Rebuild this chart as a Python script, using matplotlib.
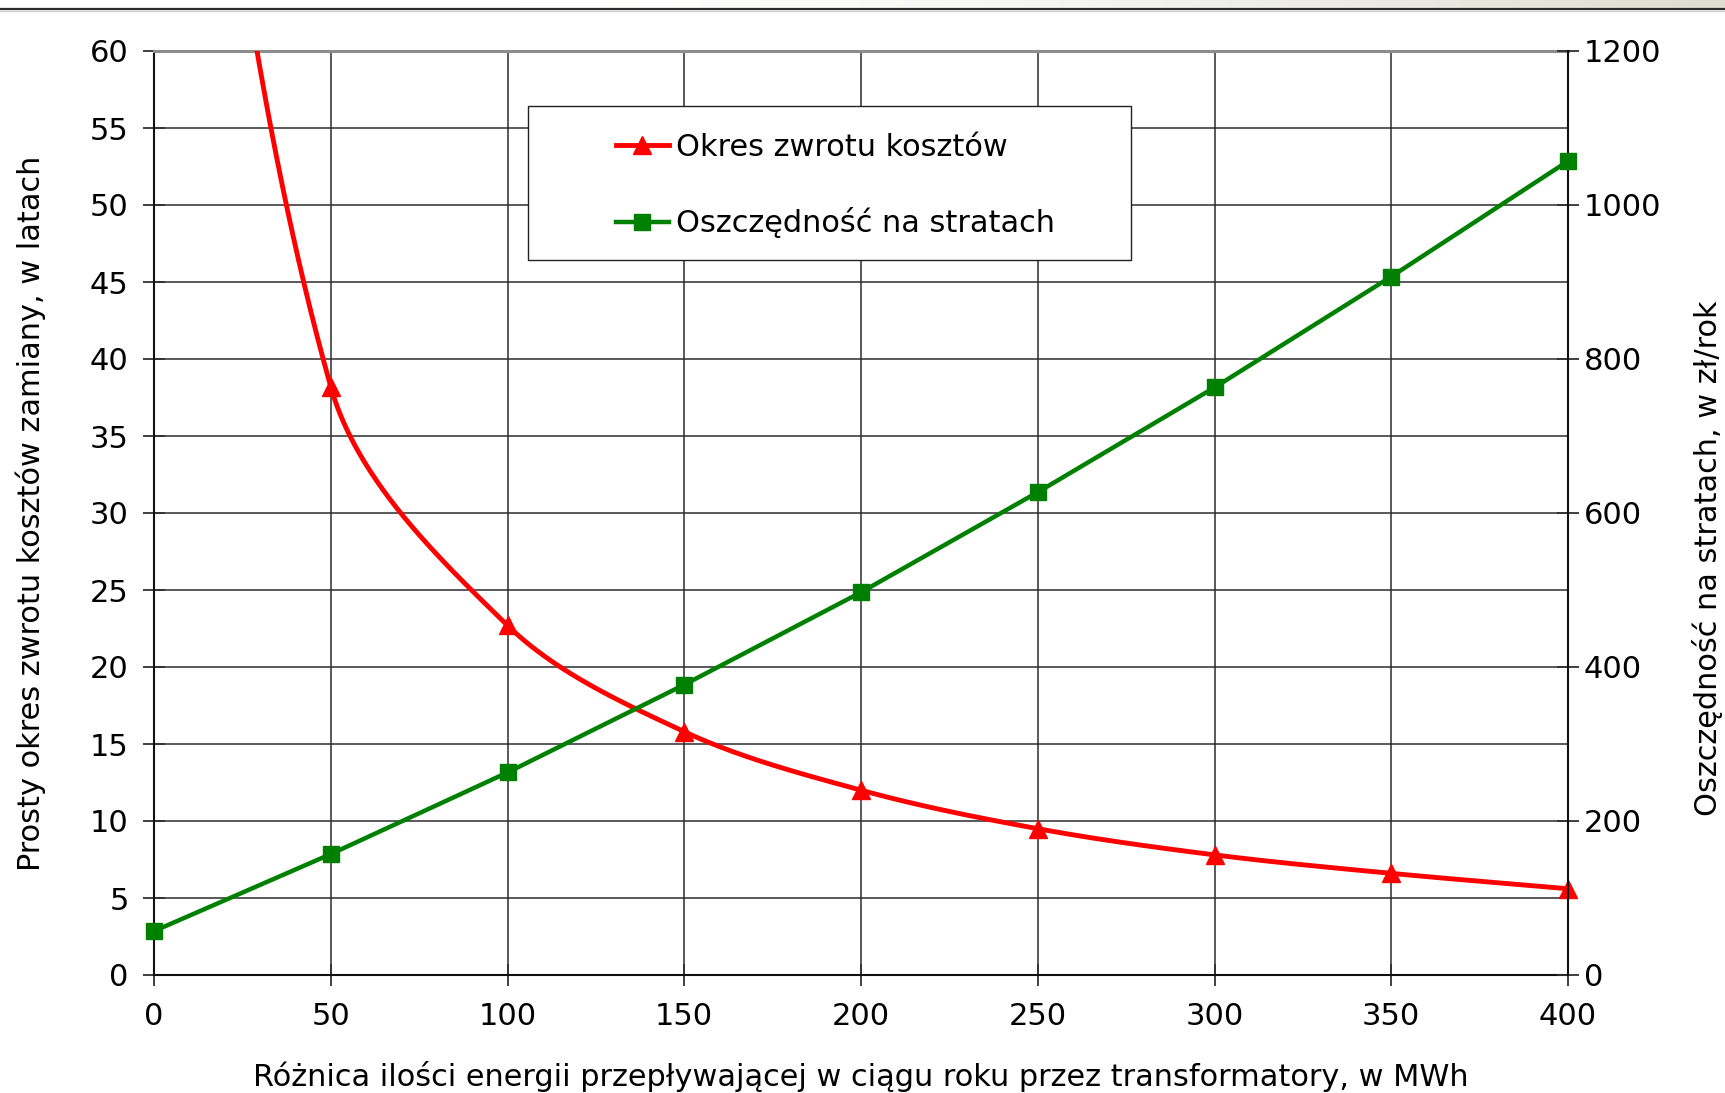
import numpy as np
import matplotlib
matplotlib.use("Agg")
import matplotlib.pyplot as plt
from matplotlib.lines import Line2D
from matplotlib.patches import Rectangle

plt.rcParams['font.family'] = ['DejaVu Sans']

# --- data -------------------------------------------------------------
energy_mwh = [0, 50, 100, 150, 200, 250, 300, 350, 400]
payback_years = [104.4, 38.2, 22.7, 15.8, 12.0, 9.5, 7.8, 6.6, 5.6]
savings_pln = [57, 157, 263, 377, 497, 627, 763, 907, 1057]

series_names = ["Okres zwrotu kosztów", "Oszczędność na stratach"]
x_ticks = [0, 50, 100, 150, 200, 250, 300, 350, 400]
left_ticks = list(range(0, 61, 5))
right_ticks = list(range(0, 1201, 200))

xlabel = "Różnica ilości energii przepływającej w ciągu roku przez transformatory, w MWh"
ylabel_left = "Prosty okres zwrotu kosztów zamiany, w latach"
ylabel_right = "Oszczędność na stratach, w zł/rok"

RED = "#ff0000"
GREEN = "#008000"
GRID = "#2c2c2c"
FS_TICK = 22
FS_LABEL = 21.9


def smooth_curve(xs, ys, sx, sy, steps=80):
    """Cubic Bezier through the points; tangents follow the neighbouring
    chords and are split in proportion to the on-screen segment lengths."""
    pts = np.column_stack([np.asarray(xs, float) * sx, np.asarray(ys, float) * sy])
    n = len(pts)
    out_ctrl = np.zeros_like(pts)
    in_ctrl = np.zeros_like(pts)
    for i in range(n):
        prev_p = pts[i - 1] if i > 0 else pts[i]
        next_p = pts[i + 1] if i < n - 1 else pts[i]
        tangent = next_p - prev_p
        d_prev = np.hypot(*(pts[i] - prev_p))
        d_next = np.hypot(*(next_p - pts[i]))
        total = d_prev + d_next
        out_ctrl[i] = pts[i] + tangent * (d_next / total) / 3.0
        in_ctrl[i] = pts[i] - tangent * (d_prev / total) / 3.0
    t = np.linspace(0.0, 1.0, steps)[:, None]
    parts = []
    for i in range(n - 1):
        p1, c1, c2, p2 = pts[i], out_ctrl[i], in_ctrl[i + 1], pts[i + 1]
        seg = ((1 - t) ** 3) * p1 + 3 * ((1 - t) ** 2) * t * c1 \
            + 3 * (1 - t) * t ** 2 * c2 + t ** 3 * p2
        parts.append(seg if i == 0 else seg[1:])
    arr = np.vstack(parts)
    return arr[:, 0] / sx, arr[:, 1] / sy


W, H = 1725, 1093
fig = plt.figure(figsize=(W / 100, H / 100), dpi=100)
fig.patch.set_facecolor("white")

# header strip with rule
band = fig.add_axes([0, 1 - 8 / H, 1, 8 / H])
grad = np.clip((np.linspace(0, 1, 256) - 0.3) / 0.7, 0, 1) ** 1.5
img = np.ones((1, 256, 3))
img[0, :, 0] = 1 - 0.13 * grad
img[0, :, 1] = 1 - 0.13 * grad
img[0, :, 2] = 1 - 0.18 * grad
band.imshow(img, aspect="auto", extent=[0, 1, 0, 1])
band.set_axis_off()
fig.add_artist(Line2D([0, 1], [1 - 8.5 / H] * 2, transform=fig.transFigure,
                      color="#2a2a2a", lw=1.6))
fig.add_artist(Line2D([0, 1], [1 - 10.5 / H] * 2, transform=fig.transFigure,
                      color="#cfcfcf", lw=1.0))

left, right, top, bottom = 154, 1568, 51, 975
ax = fig.add_axes([left / W, 1 - bottom / H, (right - left) / W, (bottom - top) / H])
ax.set_xlim(0, 400)
ax.set_ylim(0, 60)
ax.set_xticks(x_ticks)
ax.set_yticks(left_ticks)
ax.set_axisbelow(True)
ax.grid(True, color=GRID, lw=1.1)

for side in ("left", "bottom"):
    ax.spines[side].set_color("#111111")
    ax.spines[side].set_linewidth(1.5)
ax.spines["right"].set_visible(False)
ax.spines["top"].set_color("#8c8c8c")
ax.spines["top"].set_linewidth(2.2)

ax.tick_params(axis="both", direction="inout", length=16.5, width=1.3,
               color="#303030", labelsize=FS_TICK)
ax.tick_params(axis="y", pad=10)
ax.tick_params(axis="x", pad=11.5)

ax2 = ax.twinx()
ax2.set_ylim(0, 1200)
ax2.set_yticks(right_ticks)
for side in ("left", "top", "bottom"):
    ax2.spines[side].set_visible(False)
ax2.spines["right"].set_color("#111111")
ax2.spines["right"].set_linewidth(1.5)
ax2.tick_params(axis="y", direction="inout", length=16.5, width=1.3,
                color="#303030", labelsize=FS_TICK, pad=3)

# payback period: smoothed line on the left axis
px_per_x = (right - left) / 400.0
px_per_y = (bottom - top) / 60.0
cx, cy = smooth_curve(energy_mwh, payback_years, px_per_x, px_per_y)
ax.plot(cx, cy, color=RED, lw=3.5, solid_capstyle="butt", zorder=3)
ax.plot(energy_mwh, np.ma.masked_greater(payback_years, 60), linestyle="none",
        marker="^", ms=12.5, color=RED, clip_on=False, zorder=4)

# savings on losses: straight line on the right axis
ax2.plot(energy_mwh, savings_pln, color=GREEN, lw=3.2, marker="s", ms=11,
         clip_on=False, zorder=3)

ax.set_xlabel(xlabel, fontsize=FS_LABEL, va="center")
ax.xaxis.set_label_coords(0.5, -0.110)
ax.set_ylabel(ylabel_left, fontsize=FS_LABEL, va="center")
ax.yaxis.set_label_coords(-0.087, 0.5)
ax2.set_ylabel(ylabel_right, fontsize=FS_LABEL, va="center", rotation=90)
ax2.yaxis.set_label_coords(1.0985, 0.451)

# legend box
lx0, ly0, lw_, lh_ = 0.2645, 0.7738, 0.4265, 0.1667
ax2.add_patch(Rectangle((lx0, ly0), lw_, lh_, transform=ax2.transAxes,
                        facecolor="white", edgecolor="#222222", lw=1.0, zorder=5))
handles = [
    Line2D([], [], color=RED, lw=3.5, marker="^", ms=12.5),
    Line2D([], [], color=GREEN, lw=3.2, marker="s", ms=11),
]
leg = ax2.legend(handles, series_names, loc="center left",
                 bbox_to_anchor=(0.3267, ly0 + lh_ / 2 - 2.4 / 924),
                 bbox_transform=ax2.transAxes, borderaxespad=0,
                 frameon=False, fontsize=FS_LABEL, handlelength=1.74,
                 handletextpad=0.25, labelspacing=1.5, borderpad=0)
leg.set_zorder(6)

fig.savefig("out.png", dpi=100, facecolor="white")
